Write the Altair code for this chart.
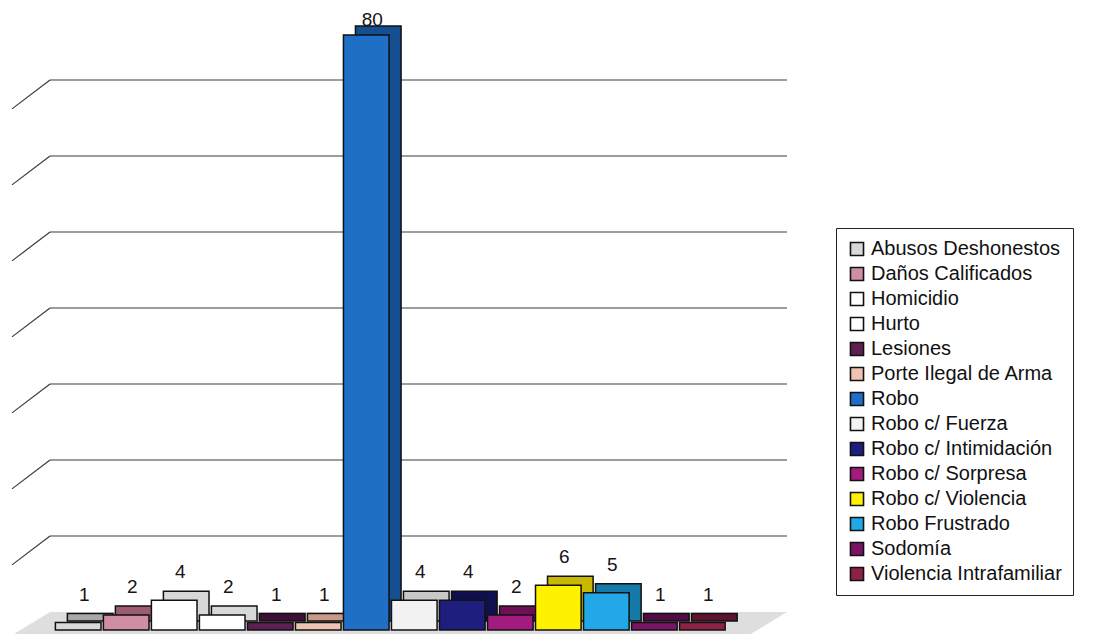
import altair as alt
import pandas as pd

# ---- data ----
categories = [
    "Abusos Deshonestos", "Daños Calificados", "Homicidio", "Hurto", "Lesiones",
    "Porte Ilegal de Arma", "Robo", "Robo c/ Fuerza", "Robo c/ Intimidación",
    "Robo c/ Sorpresa", "Robo c/ Violencia", "Robo Frustrado", "Sodomía",
    "Violencia Intrafamiliar",
]
values = [1, 2, 4, 2, 1, 1, 80, 4, 4, 2, 6, 5, 1, 1]
front_colors = [
    "#d9d9d9", "#cf8ea2", "#ffffff", "#ffffff", "#5e1f52", "#efc3b3", "#1f6fc6",
    "#f2f2f2", "#1e1e7e", "#a21c80", "#fff200", "#22a8e8", "#7c1466", "#8c2244",
]
side_colors = [
    "#a8a8a8", "#9c5c72", "#d8d8d8", "#d8d8d8", "#3e1036", "#c99a8a", "#164e92",
    "#c8c8c8", "#10104e", "#6e1056", "#c8b800", "#167aa8", "#520c44", "#5c1430",
]
grid_values = [10, 20, 30, 40, 50, 60, 70]

# floor outline (fraction of plot width, value units)
floor_x = [-0.049, 0.0, 0.951, 1.0]
floor_top = [-0.54, 2.42, 2.42, 2.42]
floor_bottom = [-0.54, -0.54, -0.54, 2.42]

W, H = 737, 622
Y_DOMAIN = [0, 83.63]
GRID_DOMAIN = [-2.368, 79.47]

df = pd.DataFrame({"cat": categories, "val": values,
                   "front": front_colors, "side": side_colors})
grid_df = pd.DataFrame({"g": grid_values})
grid_df["g_low"] = grid_df["g"] - 3.8
floor_df = pd.DataFrame({"fx": floor_x, "fy": floor_top, "fy2": floor_bottom})

xband = alt.X("cat:N", sort=categories, axis=None,
              scale=alt.Scale(paddingInner=0.05, paddingOuter=0.7, align=0.08))
yscale = alt.Scale(domain=Y_DOMAIN, nice=False, zero=False)

side = alt.Chart(df).mark_bar(
    xOffset=12, x2Offset=12, yOffset=-9, y2Offset=-9,
    stroke="#111111", strokeWidth=1.5,
).encode(
    x=xband,
    y=alt.Y("val:Q", scale=yscale, axis=None),
    fill=alt.Fill("side:N", scale=None, legend=None),
)

front = alt.Chart(df).mark_bar(stroke="#111111", strokeWidth=1.5, opacity=1).encode(
    x=xband,
    y=alt.Y("val:Q", scale=yscale, axis=None),
    color=alt.Color(
        "cat:N", sort=categories,
        scale=alt.Scale(domain=categories, range=front_colors),
        legend=alt.Legend(
            title=None, orient="none", legendX=786, legendY=220,
            strokeColor="#222222", fillColor="white", padding=11,
            labelFont="Liberation Sans", labelFontSize=20, labelColor="#111111",
            labelLimit=400, labelOffset=4,
            symbolType="square", symbolSize=170, symbolStrokeColor="#111111",
            symbolStrokeWidth=1.6, symbolOpacity=1, rowPadding=5,
        ),
    ),
)

labels = alt.Chart(df).transform_calculate(
    ly="min(datum.val, 78.3)"
).mark_text(
    dy=-28, dx=6, fontSize=19, font="Liberation Sans", color="#151515",
    baseline="middle",
).encode(
    x=xband,
    y=alt.Y("ly:Q", scale=yscale, axis=None),
    text=alt.Text("val:Q"),
)

main = alt.layer(side, front, labels)

gscale = alt.Scale(domain=GRID_DOMAIN, nice=False, zero=False)
grid_h = alt.Chart(grid_df).mark_rule(color="#3a3a3a", strokeWidth=1.2).encode(
    y=alt.Y("g:Q", scale=gscale, axis=None),
)
grid_d = alt.Chart(grid_df).mark_rule(color="#3a3a3a", strokeWidth=1.2).encode(
    x=alt.value(-38), x2=alt.value(0),
    y=alt.Y("g_low:Q", scale=gscale, axis=None),
    y2=alt.Y2("g:Q"),
)
grid = alt.layer(grid_h, grid_d)

floor = alt.Chart(floor_df).mark_area(color="#dedede", opacity=1).encode(
    x=alt.X("fx:Q", scale=alt.Scale(domain=[0, 1], nice=False, zero=False), axis=None),
    y=alt.Y("fy:Q", scale=yscale, axis=None),
    y2=alt.Y2("fy2:Q"),
)

chart = alt.layer(grid, floor, main).resolve_scale(
    x="independent", y="independent", color="independent", fill="independent"
).properties(
    width=W, height=H,
    padding={"left": 42, "top": 0, "right": 314, "bottom": 4},
    autosize=alt.AutoSizeParams(type="none"),
    background="white",
).configure_view(stroke=None)

chart.save("out.html", embed_options={"renderer": "svg", "actions": False})
